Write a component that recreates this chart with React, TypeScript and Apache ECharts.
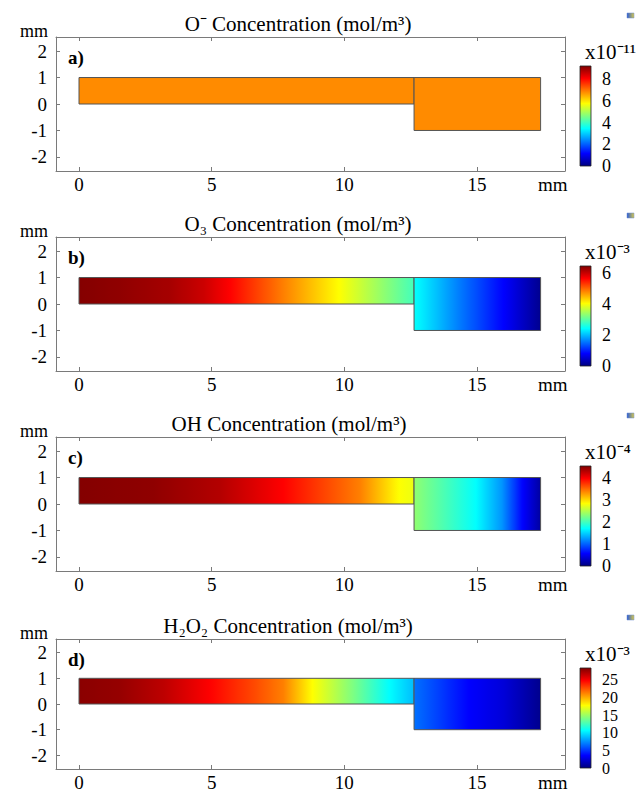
import React, { useEffect, useRef } from "react";
import * as echarts from "echarts";

// ---- data ----
const TITLES = ["O⁻ Concentration (mol/m³)", "O₃ Concentration (mol/m³)", "OH Concentration (mol/m³)", "H₂O₂ Concentration (mol/m³)"];
const TITLE_CENTERS = [298, 298, 289, 288];
const PANEL_LABELS = ["a)", "b)", "c)", "d)"];
const COLORBAR_MAX = [9.2, 6.45, 4.55, 28.4];
const COLORBAR_INTERVAL = [2, 2, 1, 5];
const COLORBAR_EXPONENT = ["x10⁻¹¹", "x10⁻³", "x10⁻⁴", "x10⁻³"];

// geometry (mm)
const CHANNEL_X = [0, 12.63];
const CHANNEL_Y = [0, 1];
const BLOCK_X = [12.63, 17.4];
const BLOCK_Y = [-1, 1];

// a) O- (x1e-11)
const A_CHANNEL_X = [0, 12.63];
const A_CHANNEL_C = [6.8, 6.8];
const A_BLOCK_X = [12.63, 17.4];
const A_BLOCK_C = [6.8, 6.8];
// b) O3 (x1e-3)
const B_CHANNEL_X = [0, 1.5, 3.4, 4.7, 5.7, 7.7, 9.8, 12.63];
const B_CHANNEL_C = [6.42, 6.35, 6.21, 5.97, 5.64, 4.84, 4.03, 2.84];
const B_BLOCK_X = [12.63, 14.3, 16.0, 17.4];
const B_BLOCK_C = [2.45, 1.61, 0.81, 0.1];
// c) OH (x1e-4)
const C_CHANNEL_X = [0, 2.8, 5.3, 7.7, 10.6, 12.07, 12.63];
const C_CHANNEL_C = [4.53, 4.48, 4.32, 3.98, 3.41, 2.84, 2.76];
const C_BLOCK_X = [12.63, 14.96, 15.95, 16.7, 17.4];
const C_BLOCK_C = [2.35, 1.71, 1.23, 0.59, 0.15];
// d) H2O2 (x1e-3)
const D_CHANNEL_X = [0, 1.5, 3.2, 4.9, 6.7, 7.7, 8.8, 10.3, 11.7, 12.63];
const D_CHANNEL_C = [28.1, 27.8, 26.7, 24.9, 22.7, 21.3, 17.75, 14.2, 10.65, 8.8];
const D_BLOCK_X = [12.63, 14.7, 16.0, 17.4];
const D_BLOCK_C = [6.7, 3.55, 2.5, 0.4];

const SAMPLES = [
  [[A_CHANNEL_X, A_CHANNEL_C], [A_BLOCK_X, A_BLOCK_C]],
  [[B_CHANNEL_X, B_CHANNEL_C], [B_BLOCK_X, B_BLOCK_C]],
  [[C_CHANNEL_X, C_CHANNEL_C], [C_BLOCK_X, C_BLOCK_C]],
  [[D_CHANNEL_X, D_CHANNEL_C], [D_BLOCK_X, D_BLOCK_C]],
];

// ---- layout ----
const OFFSETS = [0, 200, 400, 602];
const CB_LABEL_SIZE = [18, 18, 18, 16];
const FONT = '"Liberation Serif", "Times New Roman", serif';
const AXIS_COLOR = "#7a7a7a";
const X_MIN = -0.867;
const X_MAX = 18.32;
const Y_MIN = -2.53;
const Y_MAX = 2.53;

function jet(t: number): string {
  const tt = Math.min(1, Math.max(0, t));
  const c = (v: number) => Math.round(255 * Math.min(1, Math.max(0, v)));
  return `rgb(${c(1.5 - Math.abs(4 * tt - 3))},${c(1.5 - Math.abs(4 * tt - 2))},${c(1.5 - Math.abs(4 * tt - 1))})`;
}

function gradientStops(xs: number[], cs: number[], max: number) {
  const x0 = xs[0];
  const x1 = xs[xs.length - 1];
  const stops: { offset: number; color: string }[] = [];
  for (let i = 0; i < xs.length - 1; i++) {
    const steps = 8;
    for (let s = 0; s <= steps; s++) {
      if (i > 0 && s === 0) continue;
      const f = s / steps;
      const x = xs[i] + (xs[i + 1] - xs[i]) * f;
      const v = cs[i] + (cs[i + 1] - cs[i]) * f;
      stops.push({ offset: (x - x0) / (x1 - x0), color: jet(v / max) });
    }
  }
  return stops;
}

function buildOption() {
  const grid: any[] = [];
  const xAxis: any[] = [];
  const yAxis: any[] = [];
  const series: any[] = [];
  const graphic: any[] = [];

  OFFSETS.forEach((off, i) => {
    const mainGrid = grid.length;
    grid.push({ left: 56, top: 37 + off, width: 509, height: 134, show: false });
    const cbGrid = grid.length;
    grid.push({ left: 580, top: 66 + off, width: 11, height: 100, show: false });

    const xb = xAxis.length;
    xAxis.push({
      type: "value", gridIndex: mainGrid, position: "bottom", min: X_MIN, max: X_MAX, splitNumber: 4,
      axisLine: { show: true, onZero: false, lineStyle: { color: AXIS_COLOR, width: 1 } },
      axisTick: { show: true, inside: true, length: 4, lineStyle: { color: AXIS_COLOR } },
      splitLine: { show: false },
      axisLabel: { show: true, showMinLabel: false, showMaxLabel: false, margin: 4, color: "#000", fontSize: 19, fontFamily: FONT },
      name: "mm", nameLocation: "end", nameGap: -27,
      nameTextStyle: { color: "#000", fontSize: 19, fontFamily: FONT, verticalAlign: "top", align: "left", padding: [4, 0, 0, 0] },
    });
    xAxis.push({
      type: "value", gridIndex: mainGrid, position: "top", min: X_MIN, max: X_MAX, splitNumber: 4,
      axisLine: { show: true, onZero: false, lineStyle: { color: AXIS_COLOR, width: 1 } },
      axisTick: { show: true, inside: true, length: 4, lineStyle: { color: AXIS_COLOR } },
      splitLine: { show: false }, axisLabel: { show: false },
    });
    const xc = xAxis.length;
    xAxis.push({ type: "value", gridIndex: cbGrid, min: 0, max: 1, show: false });

    const yl = yAxis.length;
    yAxis.push({
      type: "value", gridIndex: mainGrid, position: "left", min: Y_MIN, max: Y_MAX, splitNumber: 5,
      axisLine: { show: true, onZero: false, lineStyle: { color: AXIS_COLOR, width: 1 } },
      axisTick: { show: true, inside: true, length: 4, lineStyle: { color: AXIS_COLOR } },
      splitLine: { show: false },
      axisLabel: { show: true, showMinLabel: false, showMaxLabel: false, margin: 9, color: "#000", fontSize: 19, fontFamily: FONT },
      name: "mm", nameLocation: "end", nameGap: 6,
      nameTextStyle: { color: "#000", fontSize: 18, fontFamily: FONT, align: "right", verticalAlign: "middle", padding: [0, 8, 0, 0] },
    });
    yAxis.push({
      type: "value", gridIndex: mainGrid, position: "right", min: Y_MIN, max: Y_MAX, splitNumber: 5,
      axisLine: { show: true, onZero: false, lineStyle: { color: AXIS_COLOR, width: 1 } },
      axisTick: { show: true, inside: true, length: 4, lineStyle: { color: AXIS_COLOR } },
      splitLine: { show: false }, axisLabel: { show: false },
    });
    const yc = yAxis.length;
    const cbMax = COLORBAR_MAX[i];
    yAxis.push({
      type: "value", gridIndex: cbGrid, position: "right", min: 0, max: cbMax, interval: COLORBAR_INTERVAL[i],
      axisLine: { show: false }, axisTick: { show: false }, splitLine: { show: false },
      axisLabel: {
        show: true, showMinLabel: true, showMaxLabel: false, hideOverlap: false, margin: 11,
        color: "#000", fontSize: CB_LABEL_SIZE[i], lineHeight: CB_LABEL_SIZE[i] - 2, fontFamily: FONT,
      },
    });

    const samples = SAMPLES[i];
    const regions = [
      [CHANNEL_X[0], CHANNEL_X[1], CHANNEL_Y[0], CHANNEL_Y[1], 0],
      [BLOCK_X[0], BLOCK_X[1], BLOCK_Y[0], BLOCK_Y[1], 1],
    ];
    series.push({
      type: "custom", xAxisIndex: xb, yAxisIndex: yl, data: regions, silent: true,
      renderItem: (params: any, api: any) => {
        const x0 = api.value(0), x1 = api.value(1), y0 = api.value(2), y1 = api.value(3);
        const idx = api.value(4);
        const p0 = api.coord([x0, y1]);
        const p1 = api.coord([x1, y0]);
        const [sx, sc] = samples[idx];
        return {
          type: "rect",
          shape: { x: p0[0], y: p0[1], width: p1[0] - p0[0], height: p1[1] - p0[1] },
          style: {
            fill: new echarts.graphic.LinearGradient(0, 0, 1, 0, gradientStops(sx, sc, cbMax)),
            stroke: "#555", lineWidth: 1,
          },
        };
      },
    });

    const cbStops = [];
    for (let k = 0; k <= 8; k++) cbStops.push({ offset: k / 8, color: jet(k / 8) });
    series.push({
      type: "custom", xAxisIndex: xc, yAxisIndex: yc, data: [[0, 1, 0, cbMax]], silent: true,
      renderItem: (params: any, api: any) => {
        const p0 = api.coord([api.value(0), api.value(3)]);
        const p1 = api.coord([api.value(1), api.value(2)]);
        return {
          type: "rect",
          shape: { x: p0[0], y: p0[1], width: p1[0] - p0[0], height: p1[1] - p0[1] },
          style: { fill: new echarts.graphic.LinearGradient(0, 1, 0, 0, cbStops), stroke: "#222", lineWidth: 0.8 },
        };
      },
    });

    graphic.push({
      type: "text", x: TITLE_CENTERS[i], y: 24 + off,
      style: { text: TITLES[i], fill: "#000", fontSize: 21, fontFamily: FONT, align: "center", verticalAlign: "middle" },
    });
    graphic.push({
      type: "text", x: 68, y: 57 + off,
      style: { text: PANEL_LABELS[i], fill: "#000", fontSize: 19, fontWeight: "bold", fontFamily: FONT, align: "left", verticalAlign: "middle" },
    });
    graphic.push({
      type: "text", x: 585, y: 52 + off,
      style: { text: COLORBAR_EXPONENT[i], fill: "#000", fontSize: 21, fontFamily: FONT, align: "left", verticalAlign: "middle" },
    });
    graphic.push({
      type: "rect", shape: { x: 627, y: 13 + off, width: 7, height: 5 },
      style: { fill: new echarts.graphic.LinearGradient(0, 0, 1, 0, [{ offset: 0, color: "#2a5bd7" }, { offset: 1, color: "#d9c94a" }]), stroke: "#6f8fd0", lineWidth: 0.5 },
    });
  });

  return { animation: false, backgroundColor: "#fff", grid, xAxis, yAxis, series, graphic };
}

export default function App() {
  const ref = useRef<HTMLDivElement>(null);
  useEffect(() => {
    if (!ref.current) return;
    const chart = echarts.init(ref.current, undefined, { renderer: "svg" });
    chart.setOption(buildOption() as any);
    return () => chart.dispose();
  }, []);
  return <div ref={ref} style={{ position: "fixed", left: 0, top: 0, width: 636, height: 792 }} />;
}
